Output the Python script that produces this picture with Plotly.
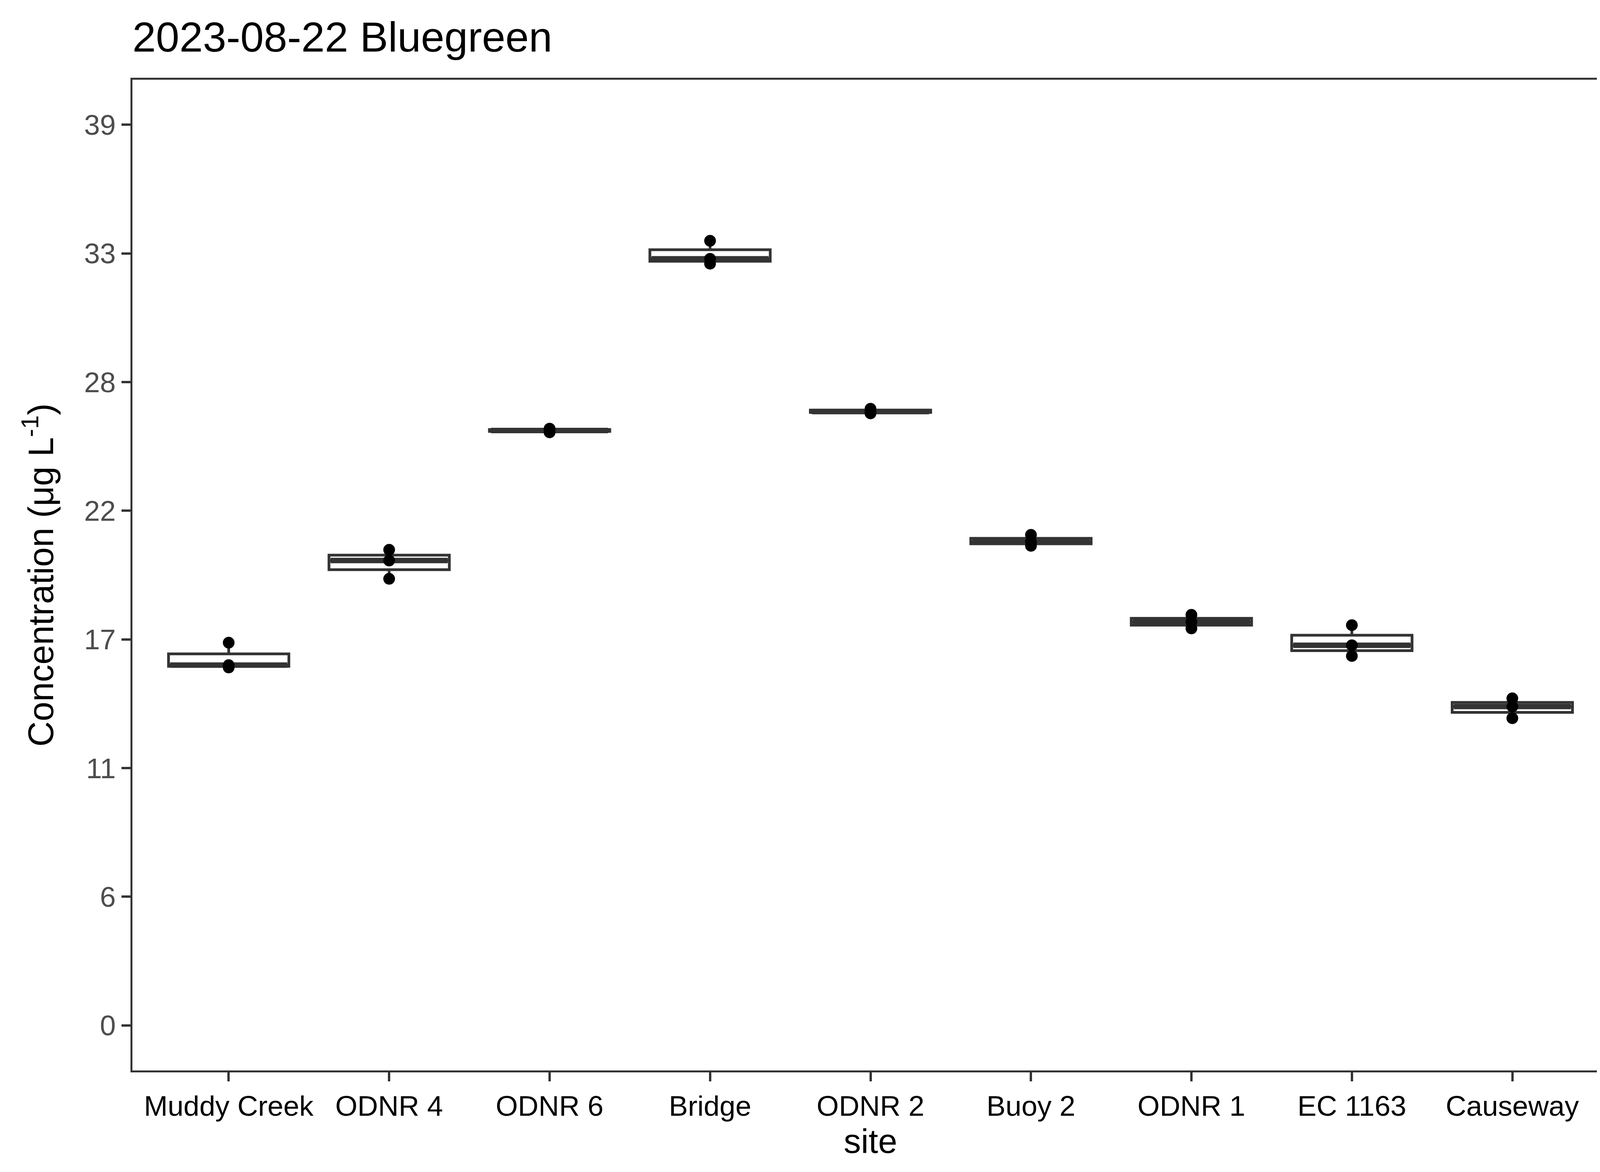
import numpy as np
import plotly.graph_objects as go

# ---- data ----
sites = ["Muddy Creek", "ODNR 4", "ODNR 6", "Bridge", "ODNR 2",
         "Buoy 2", "ODNR 1", "EC 1163", "Causeway"]
muddy_creek = [15.30, 15.40, 16.36]
odnr_4 = [19.09, 19.87, 20.33]
odnr_6 = [25.35, 25.43, 25.51]
bridge = [32.56, 32.77, 33.54]
odnr_2 = [26.16, 26.24, 26.36]
buoy_2 = [20.50, 20.67, 20.97]
odnr_1 = [16.97, 17.25, 17.55]
ec_1163 = [15.79, 16.25, 17.11]
causeway = [13.13, 13.63, 13.98]
values = [muddy_creek, odnr_4, odnr_6, bridge, odnr_2, buoy_2, odnr_1, ec_1163, causeway]

y_tickvals = [0, 5.5, 11, 16.5, 22, 27.5, 33, 38.5]
y_ticktext = ["0", "6", "11", "17", "22", "28", "33", "39"]

# ---- style ----
FONT = "Liberation Sans, Arial, sans-serif"
DARK = "#333333"
BOX_HALF = 0.375

fig = go.Figure()
for i, vals in enumerate(values):
    fig.add_trace(go.Box(
        x=[i] * len(vals), y=vals, width=2 * BOX_HALF,
        boxpoints=False, quartilemethod="inclusive",
        fillcolor="white", line=dict(color=DARK, width=7),
        whiskerwidth=0, showlegend=False, hoverinfo="skip",
    ))
for i, vals in enumerate(values):
    med = float(np.median(vals))
    fig.add_trace(go.Scatter(
        x=[i - BOX_HALF + 0.01, i + BOX_HALF - 0.01], y=[med, med], mode="lines",
        line=dict(color=DARK, width=14), showlegend=False, hoverinfo="skip",
    ))
for i, vals in enumerate(values):
    fig.add_trace(go.Scatter(
        x=[i] * len(vals), y=vals, mode="markers",
        marker=dict(color="black", size=30, line=dict(width=0)),
        showlegend=False, hoverinfo="skip",
    ))

fig.update_layout(
    width=4200, height=3000,
    margin=dict(l=331, r=90, t=196, b=268),
    paper_bgcolor="white", plot_bgcolor="white",
    font=dict(family=FONT, color="black"),
    title=dict(text="2023-08-22 Bluegreen", font=dict(size=108, color="black", family=FONT),
               x=0, xref="paper", xanchor="left",
               y=1 - 86 / 3000, yref="container", yanchor="middle"),
)
fig.update_xaxes(
    range=[-0.6, len(sites) - 1 + 0.6],
    tickmode="array", tickvals=list(range(len(sites))), ticktext=sites,
    tickfont=dict(size=73, color="black", family=FONT),
    ticks="outside", ticklen=23, tickwidth=6, tickcolor=DARK,
    showline=True, linecolor=DARK, linewidth=5, mirror=True,
    showgrid=False, zeroline=False,
    title=dict(text="site", font=dict(size=88, color="black", family=FONT), standoff=8),
)
fig.update_yaxes(
    range=[-1.925, 40.425],
    tickmode="array", tickvals=y_tickvals, ticktext=y_ticktext,
    tickfont=dict(size=73, color="#4D4D4D", family=FONT),
    ticks="outside", ticklen=23, tickwidth=6, tickcolor=DARK,
    showline=True, linecolor=DARK, linewidth=5, mirror=True,
    showgrid=False, zeroline=False,
    title=dict(text="Concentration (μg L<sup>-1</sup>)",
               font=dict(size=90, color="black", family=FONT), standoff=50),
)

fig.write_html("out.html")
